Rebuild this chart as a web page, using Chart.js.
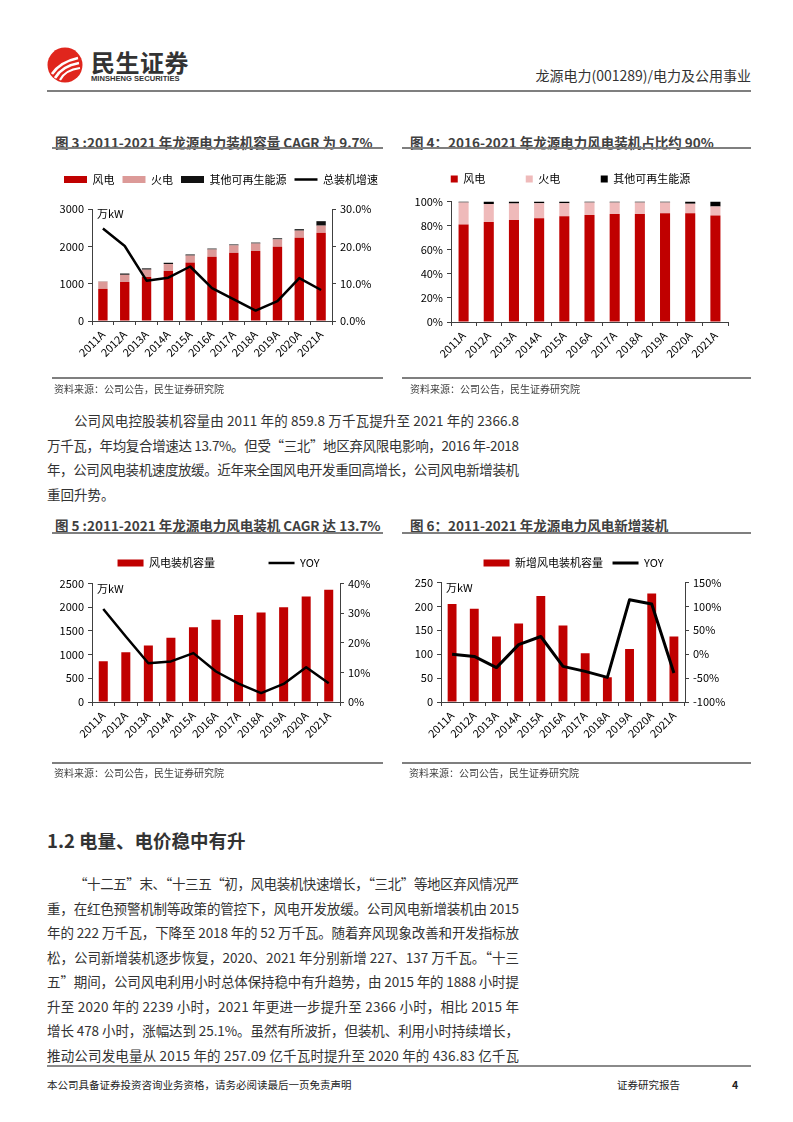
<!DOCTYPE html>
<html>
<head>
<meta charset="utf-8">
<script src="https://cdn.jsdelivr.net/npm/chart.js@4.4.0/dist/chart.umd.min.js"></script>
<style>
  body { margin: 0; background: #fff; }
  #page { position: relative; width: 793px; height: 1122px; overflow: hidden;
          font-family: "Noto Sans CJK SC", sans-serif; color: #333; }
  .rule { position: absolute; height: 0; border-top: 2px solid #7f7f7f; }
  .ftitle { position: absolute; font-size: 13.5px; font-weight: bold; color: #404040;
            white-space: nowrap; line-height: 16px; }
  .src { position: absolute; font-size: 10px; color: #404040; white-space: nowrap; line-height: 12px; }
  .box { position: absolute; }
  .para { position: absolute; left: 47px; width: 472px; font-size: 13.5px; color: #333; }
  .ln { height: 24.5px; line-height: 24.5px; white-space: nowrap; }
  .ind { padding-left: 27px; }
</style>
</head>
<body>
<div id="page">

  <!-- header -->
  <svg class="box" style="left:47px;top:47px" width="36" height="36" viewBox="0 0 36 36">
    <circle cx="18" cy="18" r="17.5" fill="#e0261d"/>
    <path d="M5 27 Q13 15 31 11" stroke="#fff" stroke-width="2.6" fill="none"/>
    <path d="M8 31 Q15 19 32 16" stroke="#fff" stroke-width="2.6" fill="none"/>
    <path d="M13 33 Q18 23 33 21" stroke="#fff" stroke-width="2.2" fill="none"/>
  </svg>
  <div class="box" style="left:91px;top:49px;font-size:24px;font-weight:bold;line-height:26px;color:#333;letter-spacing:0.5px">民生证券</div>
  <div class="box" style="left:91px;top:74px;font-family:'Liberation Sans',sans-serif;font-size:7.6px;font-weight:bold;line-height:9px;color:#333">MINSHENG SECURITIES</div>
  <div class="box" style="right:42px;top:66px;font-size:14px;line-height:18px;color:#333;white-space:nowrap">龙源电力(001289)/电力及公用事业</div>
  <div class="rule" style="left:47px;top:90px;width:704px"></div>

  <!-- figure titles and rules -->
  <div class="ftitle" style="left:55px;top:134px">图 3 :2011-2021 年龙源电力装机容量 CAGR 为 9.7%</div>
  <div class="ftitle" style="left:410px;top:134px">图 4：2016-2021 年龙源电力风电装机占比约 90%</div>
  <div class="rule" style="left:52px;top:147px;width:331px"></div>
  <div class="rule" style="left:402px;top:147px;width:349px"></div>

  <div class="box" style="left:52px;top:166px"><canvas id="fig3" width="338" height="212"></canvas></div>
  <div class="box" style="left:402px;top:133px"><canvas id="fig4" width="337" height="245"></canvas></div>

  <div class="rule" style="left:52px;top:377px;width:331px"></div>
  <div class="rule" style="left:402px;top:377px;width:349px"></div>
  <div class="src" style="left:54px;top:383px">资料来源：公司公告，民生证券研究院</div>
  <div class="src" style="left:410px;top:383px">资料来源：公司公告，民生证券研究院</div>

  <div class="para" style="top:408px">
    <div class="ln ind"><span>公司风电控股装机容量由 2011 年的 859.8 万千瓦提升至 2021 年的 2366.8</span></div>
    <div class="ln"><span>万千瓦，年均复合增速达 13.7%。但受“三北”地区弃风限电影响，2016 年-2018</span></div>
    <div class="ln"><span>年，公司风电装机速度放缓。近年来全国风电开发重回高增长，公司风电新增装机</span></div>
    <div class="ln last"><span>重回升势。</span></div>
  </div>

  <div class="ftitle" style="left:55px;top:517px">图 5 :2011-2021 年龙源电力风电装机 CAGR 达 13.7%</div>
  <div class="ftitle" style="left:410px;top:517px">图 6：2011-2021 年龙源电力风电新增装机</div>
  <div class="rule" style="left:52px;top:532px;width:331px"></div>
  <div class="rule" style="left:402px;top:532px;width:349px"></div>

  <div class="box" style="left:52px;top:504px"><canvas id="fig5" width="333" height="260"></canvas></div>
  <div class="box" style="left:402px;top:548px"><canvas id="fig6" width="343" height="216"></canvas></div>

  <div class="rule" style="left:52px;top:762px;width:331px"></div>
  <div class="rule" style="left:402px;top:762px;width:349px"></div>
  <div class="src" style="left:54px;top:767px">资料来源：公司公告，民生证券研究院</div>
  <div class="src" style="left:409px;top:767px">资料来源：公司公告，民生证券研究院</div>

  <!-- section -->
  <div class="box" style="left:47px;top:828px;font-size:18.5px;font-weight:bold;line-height:24px;color:#333;white-space:nowrap">1.2 电量、电价稳中有升</div>

  <div class="para" style="top:871px">
    <div class="ln ind"><span>“十二五”末、“十三五“初，风电装机快速增长，“三北”等地区弃风情况严</span></div>
    <div class="ln"><span>重，在红色预警机制等政策的管控下，风电开发放缓。公司风电新增装机由 2015</span></div>
    <div class="ln"><span>年的 222 万千瓦，下降至 2018 年的 52 万千瓦。随着弃风现象改善和开发指标放</span></div>
    <div class="ln"><span>松，公司新增装机逐步恢复，2020、2021 年分别新增 227、137 万千瓦。“十三</span></div>
    <div class="ln"><span>五”期间，公司风电利用小时总体保持稳中有升趋势，由 2015 年的 1888 小时提</span></div>
    <div class="ln"><span>升至 2020 年的 2239 小时，2021 年更进一步提升至 2366 小时，相比 2015 年</span></div>
    <div class="ln"><span>增长 478 小时，涨幅达到 25.1%。虽然有所波折，但装机、利用小时持续增长，</span></div>
    <div class="ln"><span>推动公司发电量从 2015 年的 257.09 亿千瓦时提升至 2020 年的 436.83 亿千瓦</span></div>
  </div>

  <!-- footer -->
  <div class="rule" style="left:47px;top:1065px;width:704px;border-top-color:#8a8a8a"></div>
  <div class="box" style="left:47px;top:1078px;font-size:10.5px;line-height:14px;color:#222;white-space:nowrap">本公司具备证券投资咨询业务资格，请务必阅读最后一页免责声明</div>
  <div class="box" style="left:617px;top:1078px;font-size:10.5px;line-height:14px;color:#222;white-space:nowrap">证券研究报告</div>
  <div class="box" style="left:732px;top:1078px;font-size:10.5px;line-height:14px;color:#222;font-weight:bold">4</div>
</div>

<script>
// categories
const years = ['2011A', '2012A', '2013A', '2014A', '2015A', '2016A', '2017A', '2018A', '2019A', '2020A', '2021A'];

// fig 3: installed capacity by type (万kW) and total growth (%)
const capWind    = [860, 1045, 1180, 1340, 1565, 1720, 1825, 1875, 1990, 2230, 2367];
const capThermal = [195, 192, 195, 185, 187, 195, 200, 200, 195, 190, 187];
const capOther   = [5, 35, 35, 35, 30, 25, 25, 25, 30, 40, 120];
const capGrowth  = [24.8, 20.1, 10.8, 11.6, 14.6, 8.8, 5.8, 2.8, 5.3, 11.5, 8.3];

// fig 4: share of capacity (%)
const shareWind    = [81.0, 83.0, 84.7, 86.1, 87.8, 88.9, 89.7, 89.7, 90.3, 90.3, 88.3];
const shareThermal = [18.2, 15.0, 13.6, 12.5, 10.8, 10.3, 9.5, 9.5, 8.9, 7.8, 7.5];
const shareOther   = [0.8, 2.0, 1.7, 1.4, 1.4, 0.8, 0.8, 0.8, 0.8, 1.9, 4.2];

// fig 5: wind capacity (万kW) and yoy (%)
const windCap = [860, 1050, 1190, 1355, 1575, 1735, 1837, 1889, 2000, 2227, 2367];
const windYoy = [31.4, 22.1, 13.1, 13.7, 16.5, 10.3, 6.2, 3.0, 6.1, 11.7, 6.3];

// fig 6: new wind capacity (万kW) and yoy (%)
const windNew    = [205, 195, 137, 164, 222, 160, 102, 52, 111, 227, 137];
const windNewYoy = [0, -4.6, -28, 20, 37, -25.5, -36, -48.5, 114, 105, -39.5];

const RED = '#c00000';
const AXIS = '#404040';

Chart.defaults.font.family = '"Noto Sans CJK SC", sans-serif';
Chart.defaults.color = '#000';
Chart.defaults.animation = false;

// "万kW" unit text in the top-left of the plot
const unitLabel = {
  id: 'unitLabel',
  afterDraw(chart, args, opts) {
    if (!opts.text) return;
    const { ctx, chartArea } = chart;
    ctx.save();
    ctx.font = '11px "Noto Sans CJK SC"';
    ctx.fillStyle = '#000';
    ctx.textBaseline = 'middle';
    ctx.fillText(opts.text, chartArea.left + 5, chartArea.top + 5);
    ctx.restore();
  }
};

// extra space between legend and plot
const legendGap = {
  id: 'legendGap',
  beforeLayout(chart, args, opts) {
    const lg = chart.legend;
    if (!lg || lg._gapDone) return;
    const fit = lg.fit;
    const gap = opts.gap || 0;
    lg.fit = function () { fit.call(this); this.height += gap; };
    lg._gapDone = true;
  }
};

function yAxis(pos, min, max, step, width, fmt, stacked) {
  return {
    position: pos, min: min, max: max, stacked: !!stacked,
    border: { display: true, color: AXIS, width: 1 },
    grid: { display: true, drawOnChartArea: false, drawTicks: true, tickLength: 4, color: AXIS },
    ticks: { stepSize: step, color: '#000', font: { size: 11 }, padding: 4, callback: fmt },
    afterFit: a => { a.width = width; }
  };
}

function xAxis(height, stacked) {
  return {
    type: 'category', offset: true, stacked: !!stacked,
    border: { display: true, color: AXIS, width: 1 },
    grid: { display: true, offset: true, drawOnChartArea: false, drawTicks: true, tickLength: 4, color: AXIS },
    ticks: { color: '#000', font: { size: 11 }, minRotation: 45, maxRotation: 45, padding: 3, autoSkip: false },
    afterFit: a => { a.height = height; }
  };
}

function legendOpts(w, h, pad) {
  return {
    display: true, position: 'top',
    labels: {
      usePointStyle: true, pointStyleWidth: w, boxHeight: h, padding: pad,
      color: '#000', font: { size: 11 },
      sort: (a, b) => a.datasetIndex - b.datasetIndex
    }
  };
}

function lineSet(label, data, width) {
  return {
    type: 'line', label: label, data: data, yAxisID: 'y1',
    borderColor: '#000', backgroundColor: '#000', borderWidth: width,
    borderJoinStyle: 'round', tension: 0,
    pointRadius: 0, pointHoverRadius: 0, pointStyle: 'line',
    pointBorderWidth: width, pointBorderColor: '#000', order: 0
  };
}

function barSet(label, data, color, pct) {
  return {
    type: 'bar', label: label, data: data, backgroundColor: color, borderWidth: 0,
    pointStyle: 'rect', barPercentage: pct, categoryPercentage: 1, order: 1
  };
}

const num = v => v;
const pct1 = v => v.toFixed(1) + '%';
const pct0 = v => v + '%';

// fig 3
new Chart(document.getElementById('fig3'), {
  data: {
    labels: years,
    datasets: [
      barSet('风电', capWind, RED, 0.43),
      barSet('火电', capThermal, '#dc9a98', 0.43),
      barSet('其他可再生能源', capOther, '#111', 0.43),
      lineSet('总装机增速', capGrowth, 2.5)
    ]
  },
  options: {
    responsive: false,
    plugins: {
      legend: legendOpts(23, 7, 8),
      tooltip: { enabled: false },
      legendGap: { gap: 14 },
      unitLabel: { text: '万kW' }
    },
    scales: {
      x: xAxis(57, true),
      y: yAxis('left', 0, 3000, 1000, 40, num, true),
      y1: yAxis('right', 0, 30, 10, 58, pct1)
    }
  },
  plugins: [legendGap, unitLabel]
});

// fig 4
new Chart(document.getElementById('fig4'), {
  data: {
    labels: years,
    datasets: [
      barSet('风电', shareWind, RED, 0.4),
      barSet('火电', shareThermal, '#efbaba', 0.4),
      barSet('其他可再生能源', shareOther, '#000', 0.4)
    ]
  },
  options: {
    responsive: false,
    plugins: {
      legend: legendOpts(7, 7, 40.5),
      tooltip: { enabled: false },
      legendGap: { gap: 7 }
    },
    scales: {
      x: xAxis(56, true),
      y: yAxis('left', 0, 100, 20, 49, pct0, true),
      y2: {
        position: 'right', display: true,
        border: { display: false }, grid: { display: false }, ticks: { display: false },
        afterFit: a => { a.width = 11; }
      }
    }
  },
  plugins: [legendGap]
});

// fig 5
new Chart(document.getElementById('fig5'), {
  data: {
    labels: years,
    datasets: [
      barSet('风电装机容量', windCap, RED, 0.4),
      lineSet('YOY', windYoy, 2.5)
    ]
  },
  options: {
    responsive: false,
    plugins: {
      legend: legendOpts(26, 7, 53.5),
      tooltip: { enabled: false },
      legendGap: { gap: 5 },
      unitLabel: { text: '万kW' }
    },
    scales: {
      x: xAxis(62),
      y: yAxis('left', 0, 2500, 500, 40, num),
      y1: yAxis('right', 0, 40, 10, 45, pct0)
    }
  },
  plugins: [legendGap, unitLabel]
});

// fig 6
new Chart(document.getElementById('fig6'), {
  data: {
    labels: years,
    datasets: [
      barSet('新增风电装机容量', windNew, RED, 0.4),
      lineSet('YOY', windNewYoy, 3)
    ]
  },
  options: {
    responsive: false,
    plugins: {
      legend: legendOpts(26, 7, 9.5),
      tooltip: { enabled: false },
      legendGap: { gap: 4 },
      unitLabel: { text: '万kW' }
    },
    scales: {
      x: xAxis(62),
      y: yAxis('left', 0, 250, 50, 39, num),
      y1: yAxis('right', -100, 150, 50, 60, pct0)
    }
  },
  plugins: [legendGap, unitLabel]
});

// stretch or squeeze each full paragraph line to the column width
document.querySelectorAll('.ln').forEach(el => {
  if (el.classList.contains('last')) return;
  const span = el.querySelector('span');
  const target = el.clientWidth - parseFloat(getComputedStyle(el).paddingLeft);
  const w = span.getBoundingClientRect().width;
  const n = [...span.textContent].length;
  span.style.letterSpacing = ((target - w) / (n - 1)) + 'px';
});
</script>
</body>
</html>
